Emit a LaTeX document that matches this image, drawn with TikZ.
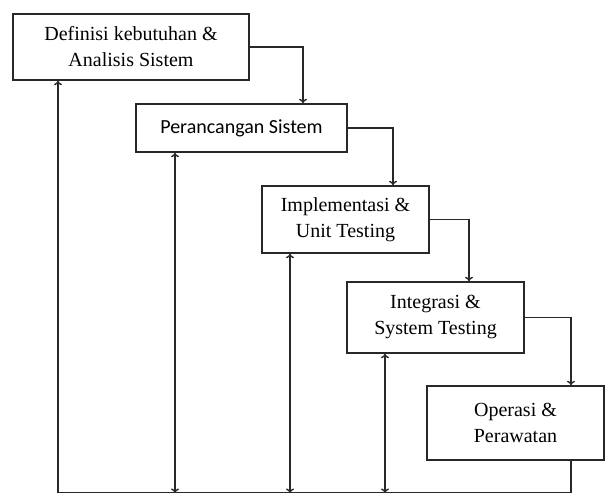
\documentclass[tikz,border=0pt]{standalone}
\usepackage{fontspec}
\setmainfont{Liberation Serif}
\newfontfamily\kotaksans{Carlito}
\usepackage{xcolor}
\usetikzlibrary{arrows.meta}
\definecolor{LineDark}{RGB}{40,40,40}

\begin{document}
\begin{tikzpicture}[x=1pt,y=-1pt,
    tahap/.style={draw=LineDark,line width=1.5pt,inner sep=0pt,align=center,
      font=\fontsize{20}{26}\selectfont},
    alur/.style={draw=LineDark,line width=1.4pt,-{To[length=4.5pt,width=8pt]}},
    balik/.style={draw=LineDark,line width=1.4pt,
      {To[length=4.5pt,width=8pt]}-{To[length=4.5pt,width=8pt]}}]
  \useasboundingbox (0,0) rectangle (606,493);
  % tahap-tahap
  \node[tahap,minimum width=236pt,minimum height=66pt] (definisi) at (131,47)
    {Definisi kebutuhan \&\\Analisis Sistem};
  \node[tahap,minimum width=211pt,minimum height=48pt,
        font=\kotaksans\fontsize{20}{24}\selectfont] (rancang) at (241.5,128)
    {Perancangan Sistem};
  \node[tahap,minimum width=167pt,minimum height=67pt] (implementasi) at (345.5,219.5)
    {Implementasi \&\\Unit Testing};
  \node[tahap,minimum width=177pt,minimum height=71pt] (integrasi) at (435.5,317.5)
    {Integrasi \&\\System Testing};
  \node[tahap,minimum width=177pt,minimum height=74pt] (operasi) at (515.5,423)
    {Operasi \&\\Perawatan};
  \coordinate (dasar) at (58,493);
  % alur turun
  \draw[alur] (definisi.east) -| ([xshift=61.5]rancang.north);
  \draw[alur] (rancang.east) -| ([xshift=47.5]implementasi.north);
  \draw[alur] (implementasi.east) -| ([xshift=33.5]integrasi.north);
  \draw[alur] (integrasi.east) -| ([xshift=55.5]operasi.north);
  % umpan balik
  \draw[alur] ([xshift=55.5]operasi.south) |- (dasar) -- ([xshift=-73]definisi.south);
  \draw[balik] ([xshift=-66.5]rancang.south) -- ([xshift=-66.5]rancang.south |- dasar);
  \draw[balik] ([xshift=-55.5]implementasi.south) -- ([xshift=-55.5]implementasi.south |- dasar);
  \draw[balik] ([xshift=-50.5]integrasi.south) -- ([xshift=-50.5]integrasi.south |- dasar);
\end{tikzpicture}
\end{document}
